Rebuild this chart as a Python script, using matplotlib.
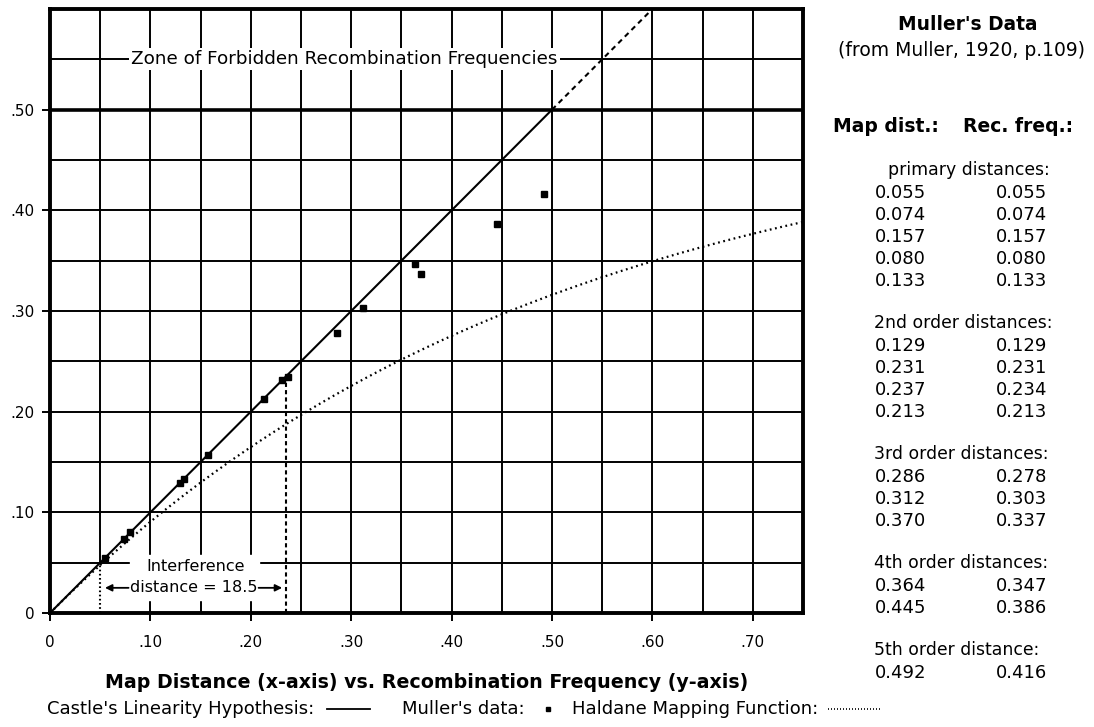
import numpy as np
import matplotlib
matplotlib.use("Agg")
import matplotlib.pyplot as plt
from matplotlib.lines import Line2D

# Muller's data (from Muller, 1920, p.109)
map_dist = [0.055, 0.074, 0.157, 0.080, 0.133,
            0.129, 0.231, 0.237, 0.213,
            0.286, 0.312, 0.370,
            0.364, 0.445,
            0.492]
rec_freq = [0.055, 0.074, 0.157, 0.080, 0.133,
            0.129, 0.231, 0.234, 0.213,
            0.278, 0.303, 0.337,
            0.347, 0.386,
            0.416]
group_names = ["primary distances:", "2nd order distances:", "3rd order distances:",
               "4th order distances:", "5th order distance:"]
group_sizes = [5, 4, 3, 2, 1]

x_ticks = [0, 0.10, 0.20, 0.30, 0.40, 0.50, 0.60, 0.70]
x_tick_labels = ["0", ".10", ".20", ".30", ".40", ".50", ".60", ".70"]
y_ticks = [0, 0.10, 0.20, 0.30, 0.40, 0.50]
y_tick_labels = ["0", ".10", ".20", ".30", ".40", ".50"]

interf_start = 0.05
interf_end = 0.235
interf_top = 0.234

plt.rcParams['font.family'] = 'DejaVu Sans'

W, H = 1094, 727
fig = plt.figure(figsize=(W / 100, H / 100), dpi=100)
ax = fig.add_axes([50 / W, 1 - 613 / H, 753 / W, 604 / H])
ax.set_xlim(0, 0.75)
ax.set_ylim(0, 0.60)

# grid every .05 (x=.05 line below .05 is replaced by the dotted marker line)
for g in np.arange(0.05, 0.75, 0.05):
    y0 = 0.05 if abs(g - 0.05) < 1e-9 else 0
    ax.plot([g, g], [y0, 0.6], color="black", lw=1.4, zorder=1)
for g in np.arange(0.05, 0.60, 0.05):
    lw = 2.6 if abs(g - 0.5) < 1e-9 else 1.4
    ax.plot([0, 0.75], [g, g], color="black", lw=lw, zorder=1)

for s in ax.spines.values():
    s.set_linewidth(2.8)

ax.set_xticks(x_ticks)
ax.set_xticklabels(x_tick_labels)
ax.set_yticks(y_ticks)
ax.set_yticklabels(y_tick_labels)
ax.tick_params(direction="out", length=6, width=1.4, labelsize=11)
ax.tick_params(axis="x", pad=10)
ax.tick_params(axis="y", pad=5)

# Castle's linearity hypothesis
ax.plot([0, 0.5], [0, 0.5], color="black", lw=1.5, zorder=3)
ax.plot([0.5, 0.6], [0.5, 0.6], color="black", lw=1.5, ls=(0, (2.5, 2)), zorder=3)

# Haldane mapping function
d = np.linspace(0, 0.75, 300)
ax.plot(d, 0.5 * (1 - np.exp(-2 * d)), color="black", lw=1.6, ls=(0, (0.8, 1.6)), zorder=3)

# Muller's data points
ax.plot(map_dist, rec_freq, ls="none", marker="s", ms=4.8, color="black", zorder=4)

# interference annotation
ax.plot([interf_start, interf_start], [0, 0.05], color="black", lw=1.5, ls=(0, (0.8, 1.2)), zorder=3)
ax.plot([interf_end, interf_end], [0, interf_top], color="black", lw=1.5, ls=(0, (2, 1.5)), zorder=3)
ax.add_patch(plt.Rectangle((0.08, 0.013), 0.128, 0.045, color="white", zorder=2))
ax.text(0.145, 0.046, "Interference", ha="center", va="center", fontsize=11.5, zorder=5)
ax.text(0.143, 0.025, "distance = 18.5", ha="center", va="center", fontsize=11.5, zorder=5)
ax.annotate("", xy=(interf_start + 0.002, 0.025), xytext=(0.081, 0.025),
            arrowprops=dict(arrowstyle="-|>", color="black", lw=1.3, mutation_scale=10), zorder=5)
ax.annotate("", xy=(interf_end - 0.001, 0.025), xytext=(0.205, 0.025),
            arrowprops=dict(arrowstyle="-|>", color="black", lw=1.3, mutation_scale=10), zorder=5)

ax.text(0.081, 0.55, "Zone of Forbidden Recombination Frequencies", ha="left", va="center",
        fontsize=13.2, zorder=5,
        bbox=dict(facecolor="white", edgecolor="none", pad=1.5))

# bottom title and key
ky = 1 - 709 / H
fig.text(427 / W, 1 - 682 / H, "Map Distance (x-axis) vs. Recombination Frequency (y-axis)",
         ha="center", va="center", fontsize=13.7, fontweight="bold")
fig.text(47 / W, ky, "Castle's Linearity Hypothesis:", ha="left", va="center", fontsize=13)
fig.add_artist(Line2D([327 / W, 370 / W], [ky, ky], color="black", lw=1.3))
fig.text(402 / W, ky, "Muller's data:", ha="left", va="center", fontsize=13)
fig.add_artist(Line2D([548 / W], [ky], marker="s", ms=3.5, color="black", ls="none"))
fig.text(572 / W, ky, "Haldane Mapping Function:", ha="left", va="center", fontsize=13)
fig.add_artist(Line2D([828 / W, 880 / W], [ky, ky], color="black", lw=1.2,
                      ls=(0, (0.6, 1.2))))

# right panel: Muller's data table
fig.text(968 / W, 1 - 25 / H, "Muller's Data", ha="center", va="center", fontsize=13.4, fontweight="bold")
fig.text(962 / W, 1 - 50 / H, "(from Muller, 1920, p.109)", ha="center", va="center", fontsize=13.5)
fig.text(833 / W, 1 - 126 / H, "Map dist.:", ha="left", va="center", fontsize=13.5, fontweight="bold")
fig.text(963 / W, 1 - 126 / H, "Rec. freq.:", ha="left", va="center", fontsize=13.5, fontweight="bold")

y = 170
i = 0
for name, n in zip(group_names, group_sizes):
    hx = 888 if i == 0 else 874
    fig.text(hx / W, 1 - y / H, name, ha="left", va="center", fontsize=12.4)
    y += 23
    for k in range(n):
        fig.text(875 / W, 1 - y / H, "%.3f" % map_dist[i], ha="left", va="center", fontsize=13)
        fig.text(996 / W, 1 - y / H, "%.3f" % rec_freq[i], ha="left", va="center", fontsize=13)
        y += 22
        i += 1
    y += 20

fig.savefig("out.png", dpi=100)
